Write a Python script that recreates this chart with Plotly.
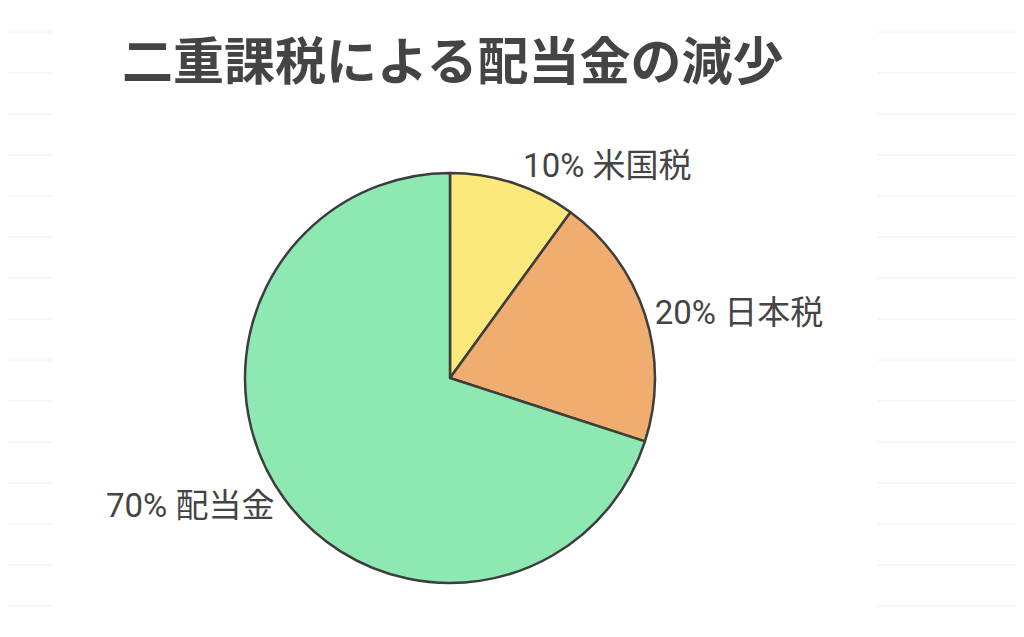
import plotly.graph_objects as go

# Share of a dividend after double taxation
labels = ["米国税", "日本税", "配当金"]
values = [10, 20, 70]
colors = ["#fbe97c", "#efae70", "#8ee8b1"]

title_text = "二重課税による配当金の減少"

W, H = 1024, 637
OFF = 8  # the page adds an 8px body margin, so shift everything back

fig = go.Figure()
fig.add_trace(
    go.Pie(
        labels=labels,
        values=values,
        sort=False,
        direction="clockwise",
        rotation=0,
        marker=dict(colors=colors, line=dict(color="#3d3d3d", width=2.5)),
        texttemplate="%{value}% %{label}",
        textposition="outside",
        textfont=dict(family="Roboto, Noto Sans CJK JP", size=33, color="#444444"),
        hoverinfo="skip",
        showlegend=False,
        domain=dict(
            x=[(245 - OFF) / W, (655 - OFF) / W],
            y=[1 - (583 - OFF) / H, 1 - (173 - OFF) / H],
        ),
    )
)

# faint ruled lines at the page edges
shapes = []
y = 32
while y < 620:
    for x0, x1 in [(0, 52), (878, W + OFF)]:
        yy = 1 - (y - OFF) / H
        shapes.append(dict(
            type="line", xref="paper", yref="paper",
            x0=max(x0 - OFF, 0) / W, x1=(x1 - OFF) / W, y0=yy, y1=yy,
            line=dict(color="#eeeeee", width=1),
        ))
    y += 41

fig.update_layout(
    width=W,
    height=H,
    margin=dict(l=0, r=0, t=0, b=0),
    paper_bgcolor="white",
    plot_bgcolor="white",
    shapes=shapes,
    title=dict(
        text=title_text,
        x=(122 - OFF) / W,
        xanchor="left",
        y=1 - (62 - OFF) / H,
        yanchor="middle",
        font=dict(family="Noto Sans CJK JP", size=51, color="#444444", weight=700),
    ),
)

fig.write_html("out.html")
